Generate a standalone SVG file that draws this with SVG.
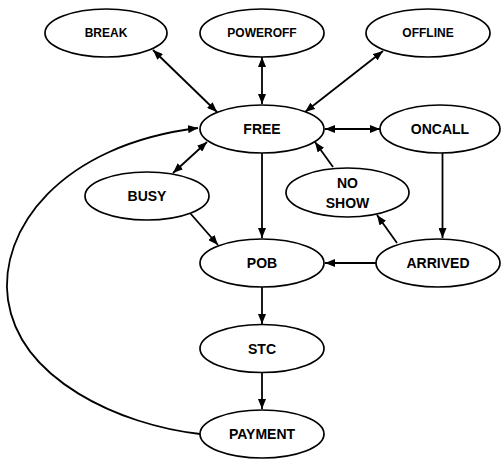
<svg xmlns="http://www.w3.org/2000/svg" width="501" height="461" viewBox="0 0 501 461">
<style>
.n ellipse{fill:#fff;stroke:#000;stroke-width:1.7}
.n text{font-family:"Liberation Sans",Arial,sans-serif;font-weight:bold;font-size:14px;text-anchor:middle;dominant-baseline:central;fill:#000}
.n text.s{font-size:12px}
#edges path,#edges line{stroke:#000;stroke-width:1.8;fill:none}
</style>
<defs>
<marker id="ah" viewBox="0 0 10 8" refX="10" refY="4" markerWidth="10" markerHeight="8" markerUnits="userSpaceOnUse" orient="auto-start-reverse">
<path d="M0,0 L10,4 L0,8 z" fill="#000"/>
</marker>
</defs>
<g id="edges">
<line x1="153" y1="50" x2="217" y2="112" marker-start="url(#ah)" marker-end="url(#ah)"/>
<line x1="262" y1="57" x2="262" y2="104" marker-start="url(#ah)" marker-end="url(#ah)"/>
<line x1="383" y1="51" x2="305" y2="112" marker-start="url(#ah)" marker-end="url(#ah)"/>
<line x1="325" y1="129" x2="380" y2="129" marker-start="url(#ah)" marker-end="url(#ah)"/>
<line x1="173" y1="173" x2="207" y2="142" marker-start="url(#ah)" marker-end="url(#ah)"/>
<line x1="333" y1="167" x2="315" y2="142" marker-end="url(#ah)"/>
<line x1="262" y1="153" x2="262" y2="238" marker-end="url(#ah)"/>
<line x1="442.5" y1="153" x2="442.5" y2="238" marker-end="url(#ah)"/>
<line x1="190" y1="213" x2="218" y2="245" marker-end="url(#ah)"/>
<line x1="376" y1="263" x2="325" y2="263" marker-end="url(#ah)"/>
<line x1="397" y1="243" x2="377" y2="215" marker-end="url(#ah)"/>
<line x1="262" y1="287" x2="262" y2="324" marker-end="url(#ah)"/>
<line x1="262" y1="373" x2="262" y2="409" marker-end="url(#ah)"/>
<path d="M200,434 C120,425 20,380 8,300 C-2,230 60,145 198,128" marker-end="url(#ah)"/>
</g>
<g id="BREAK" class="n"><ellipse cx="106" cy="33" rx="61" ry="24"/><text class="s" x="106" y="33">BREAK</text></g>
<g id="POWEROFF" class="n"><ellipse cx="262" cy="33" rx="62" ry="24"/><text class="s" x="262" y="33">POWEROFF</text></g>
<g id="OFFLINE" class="n"><ellipse cx="428" cy="33" rx="62" ry="24"/><text class="s" x="428" y="33">OFFLINE</text></g>
<g id="FREE" class="n"><ellipse cx="262" cy="129" rx="62" ry="24"/><text x="262" y="129">FREE</text></g>
<g id="ONCALL" class="n"><ellipse cx="440" cy="129" rx="60" ry="24"/><text x="440" y="129">ONCALL</text></g>
<g id="BUSY" class="n"><ellipse cx="147" cy="196" rx="62" ry="24"/><text x="147" y="196">BUSY</text></g>
<g id="NOSHOW" class="n"><ellipse cx="347.5" cy="192.5" rx="61.5" ry="24.5"/><text x="347.5" y="182.5">NO</text><text x="347.5" y="203">SHOW</text></g>
<g id="POB" class="n"><ellipse cx="262" cy="263" rx="62" ry="24"/><text x="262" y="263">POB</text></g>
<g id="ARRIVED" class="n"><ellipse cx="438" cy="263" rx="62" ry="24"/><text x="438" y="263">ARRIVED</text></g>
<g id="STC" class="n"><ellipse cx="262" cy="348.5" rx="62" ry="24"/><text x="262" y="348.5">STC</text></g>
<g id="PAYMENT" class="n"><ellipse cx="262" cy="434" rx="62" ry="24"/><text x="262" y="434">PAYMENT</text></g>
</svg>
